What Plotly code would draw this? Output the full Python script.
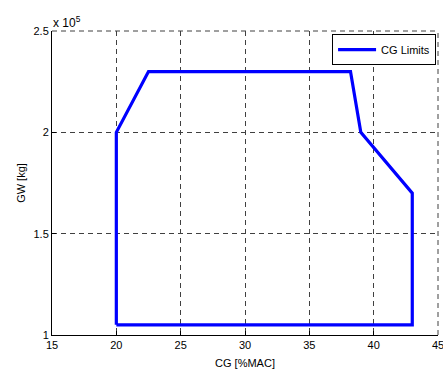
import plotly.graph_objects as go

# CG envelope vertices (CG in %MAC, gross weight in kg), closed polygon
cg_pct_mac = [20.0, 20.0, 22.5, 38.2, 39.0, 43.0, 43.0, 20.0]
gross_weight_kg = [105000, 200000, 230000, 230000, 200000, 170000, 105000, 105000]

x_ticks = [15, 20, 25, 30, 35, 40, 45]
y_ticks = [100000, 150000, 200000, 250000]
y_tick_text = ["1", "1.5", "2", "2.5"]

FONT = "Liberation Sans, Arial, sans-serif"
GRID = "#404040"

fig = go.Figure()
fig.add_trace(go.Scatter(
    x=cg_pct_mac, y=gross_weight_kg, mode="lines", name="CG Limits",
    line=dict(color="#0000FF", width=3.2),
))

fig.update_layout(
    width=443, height=369,
    margin=dict(l=52, r=5, t=31, b=34),
    paper_bgcolor="white", plot_bgcolor="white",
    font=dict(family=FONT, size=11, color="black"),
    showlegend=True,
    legend=dict(
        x=0.995, y=0.99, xanchor="right", yanchor="top",
        bgcolor="white", bordercolor="black", borderwidth=1,
        font=dict(family=FONT, size=11),
        itemwidth=38, tracegroupgap=0,
    ),
)

fig.update_xaxes(
    range=[15, 45], tickvals=x_ticks,
    showgrid=True, gridcolor=GRID, gridwidth=1, griddash="5px,4px",
    showline=True, linecolor="black", linewidth=1,
    ticks="inside", ticklen=4, tickcolor="black",
    ticklabeloverflow="allow", automargin=False,
    zeroline=False,
    title=dict(text="CG [%MAC]", font=dict(family=FONT, size=11), standoff=11),
)
fig.update_yaxes(
    range=[100000, 250000], tickvals=y_ticks, ticktext=y_tick_text,
    showgrid=True, gridcolor=GRID, gridwidth=1, griddash="5px,4px",
    showline=True, linecolor="black", linewidth=1,
    ticks="inside", ticklen=4, tickcolor="black",
    ticklabeloverflow="allow", automargin=False,
    zeroline=False,
    title=dict(text="GW [kg]", font=dict(family=FONT, size=11), standoff=5),
)

# exponent label for the y axis
fig.add_annotation(
    xref="paper", yref="paper", x=0.0, y=1.0, xanchor="left", yanchor="bottom",
    text="x 10<sup>5</sup>", showarrow=False,
    font=dict(family=FONT, size=12), xshift=-1, yshift=-1,
)

# dashed top and right frame edges
fig.add_shape(type="line", xref="paper", yref="paper", x0=0, x1=1, y0=1, y1=1,
              line=dict(color=GRID, width=1, dash="5px,4px"))
fig.add_shape(type="line", xref="paper", yref="paper", x0=1, x1=1, y0=0, y1=1,
              line=dict(color=GRID, width=1, dash="5px,4px"))

fig.write_html("out.html")
